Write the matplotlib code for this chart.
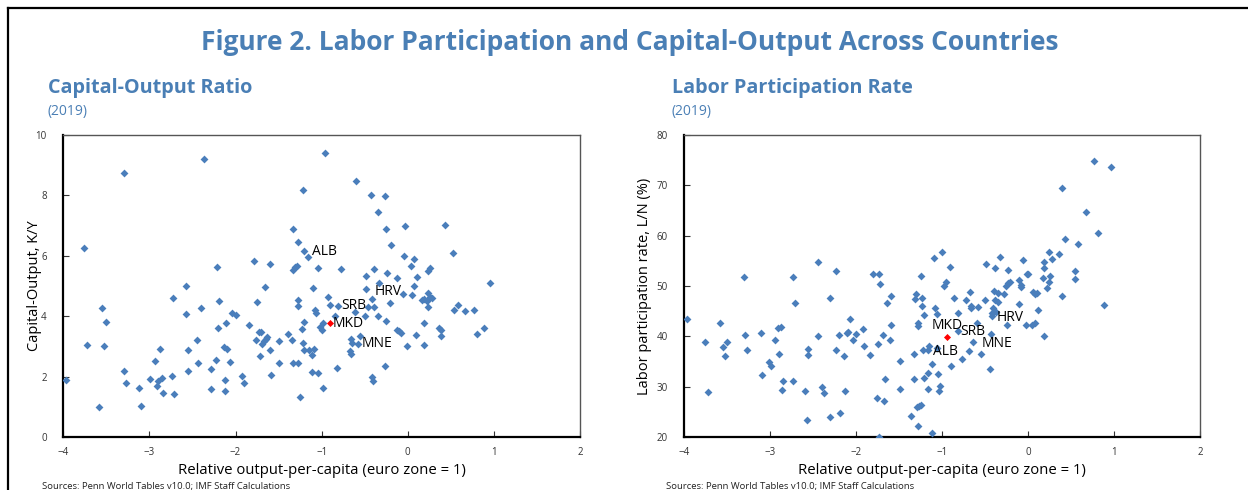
import numpy as np
import matplotlib
matplotlib.use("Agg")
import matplotlib.pyplot as plt
from matplotlib.lines import Line2D

plt.rcParams['font.family'] = ['Open Sans', 'DejaVu Sans']

# -------------------------
# Datos
# -------------------------

# panel izquierdo: capital-output
ky_x = [-3.97, -3.76, -3.72, -3.58, -3.55, -3.50, -3.53, -3.29, -3.30, -3.27,
        -3.12, -3.10, -2.99, -2.93, -2.91, -2.90, -2.88, -2.85, -2.84, -2.74,
        -2.73, -2.71, -2.58, -2.57, -2.55, -2.55, -2.45, -2.44, -2.40, -2.37,
        -2.29, -2.29, -2.23, -2.22, -2.20, -2.19, -2.13, -2.11, -2.12, -2.12,
        -2.10, -2.06, -2.04, -2.00, -1.92, -1.90, -1.84, -1.79, -1.75, -1.73,
        -1.71, -1.76, -1.72, -1.69, -1.67, -1.66, -1.65, -1.63, -1.60, -1.60,
        -1.59, -1.49, -1.49, -1.39, -1.35, -1.33, -1.33, -1.31, -1.29, -1.33,
        -1.28, -1.28, -1.27, -1.27, -1.25, -1.23, -1.22, -1.22, -1.21, -1.20,
        -1.20, -1.15, -1.11, -1.11, -1.10, -1.09, -1.08, -1.06, -1.04, -1.04,
        -1.02, -1.00, -0.99, -0.98, -0.96, -0.93, -0.60, -0.43, -0.27, -0.35,
        -0.25, -0.03, 0.43, -0.20, 0.53, -0.04, 0.07, 0.04, 0.24, 0.26,
        -0.77, -0.39, -0.49, -0.24, -0.12, 0.11, -0.33, 0.07, 0.96, -0.06,
        0.05, 0.24, 0.26, 0.28, 0.16, 0.19, 0.22, 0.24, -0.21, -0.42,
        -0.39, -0.46, -0.50, -0.34, -0.25, -0.61, -0.85, -0.90, 0.58, 0.54,
        0.66, 0.77, 0.88, 0.80, 0.19, 0.36, 0.39, 0.39, -0.13, -0.10,
        -0.08, 0.10, -0.55, -0.01, 0.19, -0.66, -0.65, -0.67, -0.66, -0.27,
        -0.82, -0.41, -0.40]
ky_y = [1.89, 6.26, 3.05, 1.01, 4.28, 3.80, 3.03, 8.74, 2.20, 1.78,
        1.62, 1.05, 1.92, 2.51, 1.70, 1.87, 2.93, 1.95, 1.45, 2.04,
        4.59, 1.42, 4.99, 4.06, 2.87, 2.18, 3.20, 2.47, 4.26, 9.19,
        2.25, 1.60, 2.57, 5.63, 3.60, 4.52, 3.00, 3.77, 1.88, 1.52,
        2.91, 2.48, 4.11, 4.05, 2.04, 1.78, 3.72, 5.81, 4.46, 3.48,
        3.47, 3.20, 2.70, 3.07, 3.19, 4.98, 3.26, 3.30, 2.87, 5.74,
        2.06, 3.18, 2.44, 3.43, 3.22, 6.87, 5.53, 5.62, 5.66, 2.46,
        2.44, 4.54, 4.35, 6.44, 1.34, 3.59, 3.11, 8.17, 3.81, 6.17,
        2.87, 2.89, 2.15, 2.72, 4.94, 2.92, 4.20, 4.11, 5.61, 2.11,
        3.66, 3.54, 1.62, 3.79, 9.38, 4.65, 8.47, 8.02, 7.98, 7.44,
        6.88, 6.97, 7.00, 6.34, 6.08, 5.99, 5.88, 5.65, 5.50, 5.61,
        5.57, 5.57, 5.34, 5.44, 5.26, 5.29, 5.10, 5.00, 5.11, 4.74,
        4.71, 4.77, 4.65, 4.59, 4.54, 4.56, 4.52, 4.32, 4.45, 4.57,
        4.30, 4.30, 4.01, 4.01, 3.83, 4.15, 4.02, 4.37, 4.38, 4.20,
        4.19, 4.21, 3.62, 3.43, 3.77, 3.60, 3.54, 3.34, 3.56, 3.50,
        3.46, 3.39, 3.36, 3.03, 3.05, 3.24, 3.13, 2.85, 2.74, 2.36,
        2.29, 2.00, 1.87]

# panel derecho: participacion laboral
ln_x = [-3.97, -3.76, -3.72, -3.59, -3.55, -3.53, -3.50, -3.30, -3.29, -3.27,
        -3.11, -3.10, -3.01, -2.99, -2.94, -2.91, -2.90, -2.88, -2.85, -2.86,
        -2.74, -2.73, -2.71, -2.59, -2.56, -2.56, -2.57, -2.45, -2.45, -2.40,
        -2.37, -2.30, -2.30, -2.23, -2.23, -2.20, -2.19, -2.14, -2.13, -2.11,
        -2.10, -2.07, -2.04, -2.00, -1.92, -1.91, -1.84, -1.80, -1.76, -1.75,
        -1.73, -1.74, -1.72, -1.69, -1.68, -1.67, -1.64, -1.61, -1.60, -1.59,
        -1.49, -1.49, -1.36, -1.33, -1.33, -1.32, -1.30, -1.28, -1.28, -1.28,
        -1.29, -1.27, -1.25, -1.25, -1.23, -1.23, -1.22, -1.21, -1.21, -1.15,
        -1.17, -1.16, -1.12, -1.12, -1.10, -1.00, -1.08, -1.06, -0.91, -0.98,
        -0.95, -0.86, -0.82, -0.72, -0.68, -0.66, -0.66, -0.58, -0.59, -0.50,
        -0.49, -0.42, -0.41, -0.40, -0.39, -0.39, -0.35, -0.35, -0.37, -0.43,
        -0.33, -0.23, -0.28, -0.26, -0.23, -0.21, -0.25, -0.11, -0.11, -0.08,
        -0.08, -0.06, -0.01, 0.00, -0.03, 0.04, 0.08, 0.06, 0.08, 0.10,
        0.11, 0.17, 0.19, 0.19, 0.19, 0.22, 0.24, 0.24, 0.26, 0.28,
        0.36, 0.39, 0.40, 0.43, 0.54, 0.54, 0.58, 0.67, 0.77, 0.81,
        0.88, 0.97, -0.69, -0.77, -0.55, -0.44, -0.90, -1.05, -1.02, -1.04,
        -1.06]
ln_y = [43.4, 38.8, 28.9, 42.6, 38.0, 36.2, 38.8, 51.7, 40.2, 37.3,
        40.6, 32.4, 34.9, 34.1, 39.2, 41.7, 36.6, 41.8, 31.1, 29.3,
        51.8, 31.2, 46.6, 29.2, 36.3, 37.6, 23.5, 54.7, 40.0, 30.0,
        28.7, 47.6, 24.0, 52.9, 37.4, 40.2, 24.8, 36.2, 29.1, 40.6,
        40.8, 43.4, 39.2, 40.5, 41.5, 38.2, 36.3, 52.3, 27.8, 38.5,
        52.3, 20.0, 50.4, 40.3, 27.1, 31.6, 46.6, 39.2, 42.2, 48.1,
        35.2, 29.6, 24.2, 36.5, 31.5, 47.4, 48.4, 22.2, 42.1, 42.7,
        26.1, 26.3, 26.5, 51.9, 47.6, 46.0, 37.3, 44.2, 31.7, 38.2,
        29.5, 32.7, 34.5, 20.8, 55.6, 56.7, 45.7, 44.5, 53.8, 50.0,
        50.8, 47.7, 44.6, 47.2, 48.8, 46.1, 45.6, 45.8, 42.7, 47.2,
        54.4, 44.7, 45.6, 49.1, 53.6, 47.2, 48.7, 46.9, 44.9, 40.4,
        55.8, 53.2, 48.5, 50.0, 50.5, 50.8, 42.3, 51.2, 46.4, 49.9,
        50.1, 55.2, 52.4, 52.3, 42.3, 42.3, 42.7, 48.8, 48.5, 48.7,
        45.2, 51.5, 54.8, 53.6, 40.0, 49.7, 56.7, 50.7, 52.0, 55.3,
        56.4, 69.4, 48.1, 59.4, 53.0, 51.3, 58.3, 64.7, 74.8, 60.5,
        46.2, 73.5, 37.2, 35.6, 36.5, 33.6, 34.2, 32.6, 30.2, 29.1,
        37.8]

# paises etiquetados (MKD en rojo)
paises = ["ALB", "SRB", "HRV", "MNE"]
paises_ky_x = [-1.16, -0.81, -0.48, -0.58]
paises_ky_y = [5.97, 4.34, 4.90, 3.09]
paises_ln_x = [-1.17, -0.82, -0.42, -0.64]
paises_ln_y = [37.3, 41.1, 44.0, 38.8]

mkd_ky = (-0.90, 3.77)
mkd_ln = (-0.94, 39.9)

x_ticks = [-4, -3, -2, -1, 0, 1, 2]

# -----------
# Graficas
# -----------

azul = "#4a7ebb"
titulo_color = "#4a7fb5"

fig = plt.figure(figsize=(12.48, 4.90), dpi=100)

fig.text(0.505, 0.913, "Figure 2. Labor Participation and Capital-Output Across Countries",
         ha="center", va="center", fontsize=19, fontweight="bold", color=titulo_color)

# borde superior e izquierdo del recuadro
fig.add_artist(Line2D([8 / 1248, 1.0], [1 - 8.5 / 490, 1 - 8.5 / 490], color="black", lw=1.6))
fig.add_artist(Line2D([8 / 1248, 8 / 1248], [0, 1 - 8.5 / 490], color="black", lw=1.6))


def panel(rect, xs, ys, lx, ly, mkd, ylim, yticks, ylabel, ylab_x,
          titulo, titulo_x, offsets):
    ax = fig.add_axes(rect)
    ax.scatter(xs, ys, marker="D", s=16, color=azul, linewidths=0, zorder=3)
    ax.scatter(lx, ly, marker="D", s=16, color=azul, linewidths=0, zorder=3)
    ax.scatter([mkd[0]], [mkd[1]], marker="D", s=13, color="red", linewidths=0, zorder=4)

    for name, x, y, off in zip(paises + ["MKD"], lx + [mkd[0]], ly + [mkd[1]], offsets):
        ax.annotate(name, (x, y), xytext=off[:2], textcoords="offset points",
                    ha=off[2], va="center", fontsize=10, color="black", zorder=5)

    ax.set_xlim(-4, 2)
    ax.set_ylim(*ylim)
    ax.set_xticks(x_ticks)
    ax.set_yticks(yticks)
    ax.tick_params(direction="in", length=4, width=0.8, labelsize=7, colors="#333333",
                   pad=7)
    ax.tick_params(axis="y", pad=12)
    for s in ["left", "bottom"]:
        ax.spines[s].set_linewidth(1.6)
        ax.spines[s].set_color("black")
    for s in ["top", "right"]:
        ax.spines[s].set_linewidth(1.0)
        ax.spines[s].set_color("#555555")

    ax.set_xlabel("Relative output-per-capita (euro zone = 1)", fontsize=10.7)
    ax.xaxis.set_label_coords(0.5, -0.086)
    ax.set_ylabel(ylabel, fontsize=10.5)
    ax.yaxis.set_label_coords(ylab_x, 0.5)

    fig.text(titulo_x / 1248, 1 - 88 / 490, titulo, fontsize=14.2, fontweight="bold",
             color=titulo_color, va="center", ha="left")
    fig.text(titulo_x / 1248, 1 - 111 / 490, "(2019)", fontsize=10,
             color=titulo_color, va="center", ha="left")
    fig.text((titulo_x - 6) / 1248, 1 - 486 / 490,
             "Sources: Penn World Tables v10.0; IMF Staff Calculations",
             fontsize=6.8, color="#222222", va="center", ha="left")
    return ax


off_ky = [(3, 3.5, "left"), (2, 0, "left"), (6, -1.5, "left"), (2.5, 0, "left"), (1.5, 0, "left")]
off_ln = [(4, -0.8, "left"), (2, -0.8, "left"), (3, -0.8, "left"), (6, -0.7, "left"), (0, 8.5, "center")]

panel([63.3 / 1248, 1 - 437.3 / 490, 516.7 / 1248, 302.6 / 490],
      ky_x, ky_y, paises_ky_x, paises_ky_y, mkd_ky, (0, 10), [0, 2, 4, 6, 8, 10],
      "Capital-Output, K/Y", -0.041, "Capital-Output Ratio", 48, off_ky)

panel([684.3 / 1248, 1 - 437.3 / 490, 515.7 / 1248, 302.6 / 490],
      ln_x, ln_y, paises_ln_x, paises_ln_y, mkd_ln, (20, 80), [20, 30, 40, 50, 60, 70, 80],
      "Labor participation rate, L/N (%)", -0.062, "Labor Participation Rate", 672, off_ln)

fig.savefig("out.png", dpi=100)
